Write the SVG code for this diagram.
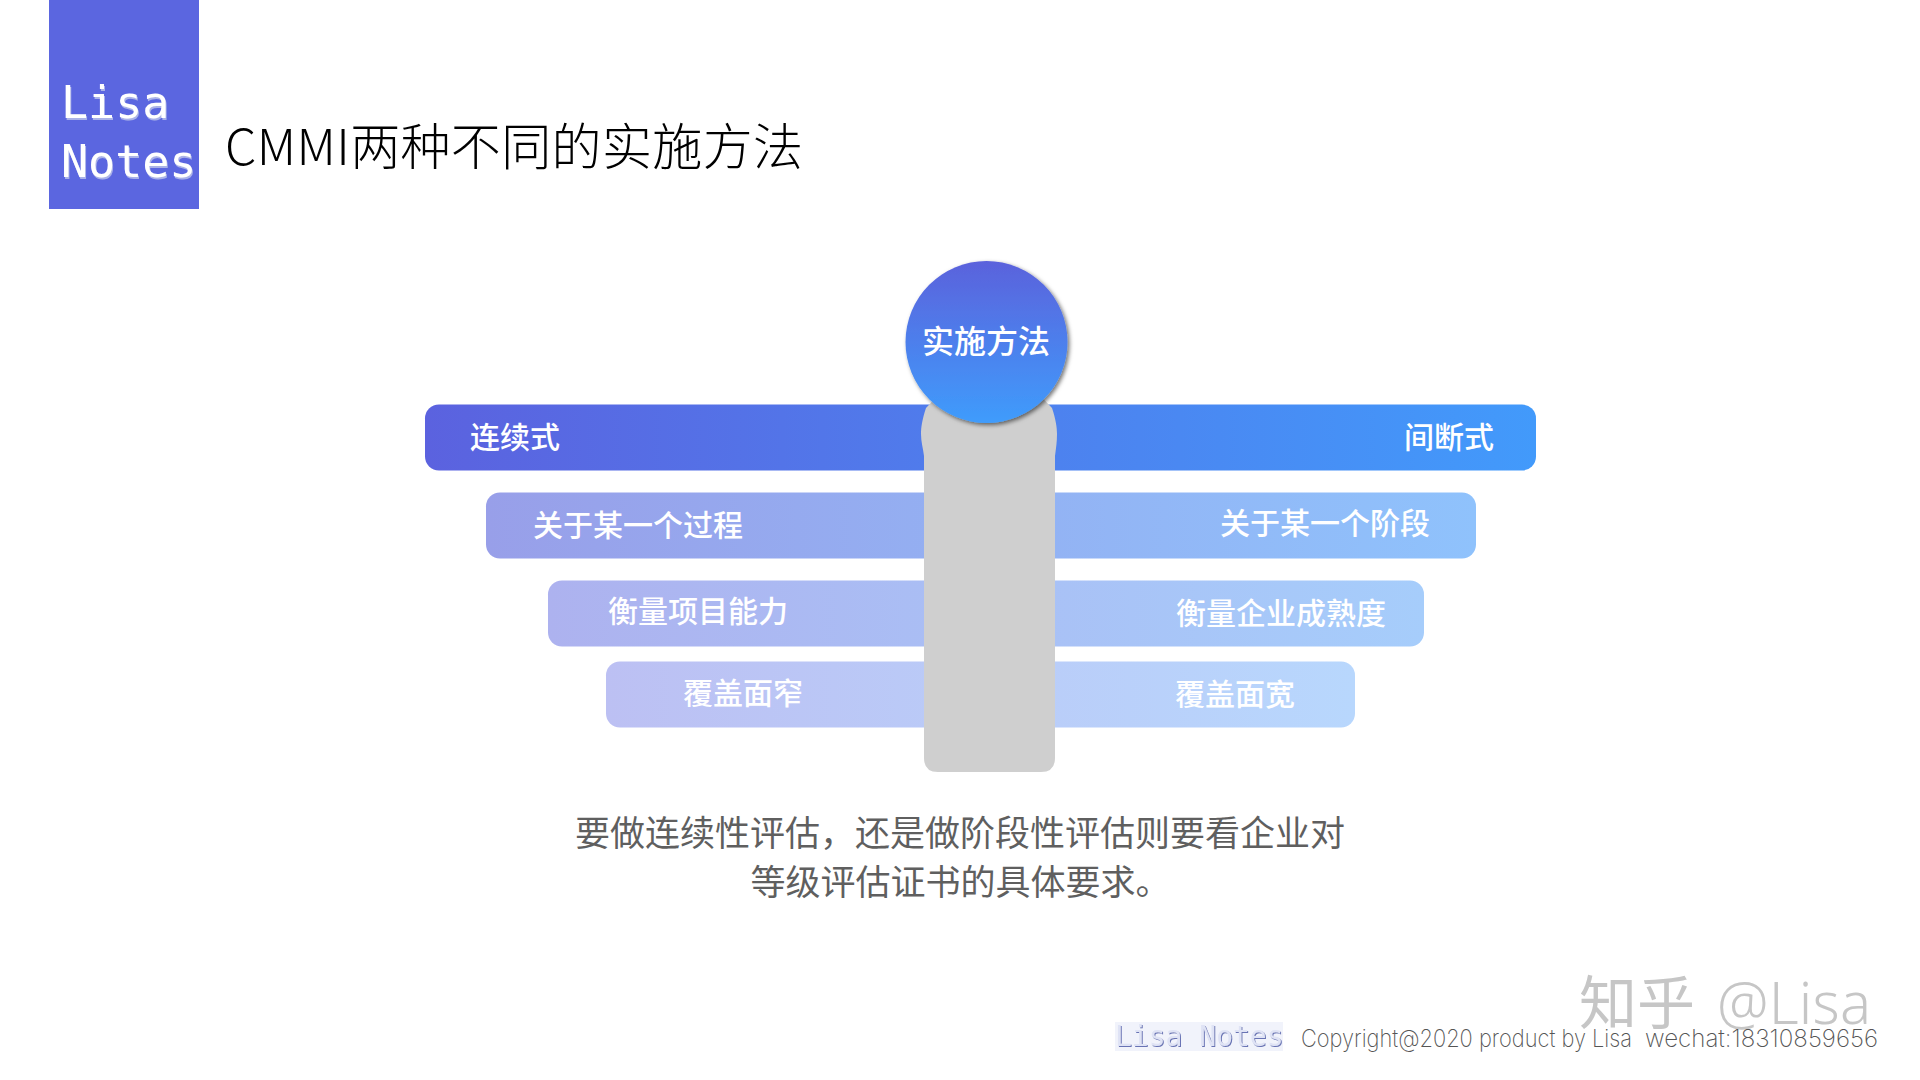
<svg xmlns="http://www.w3.org/2000/svg" width="1920" height="1080" viewBox="0 0 1920 1080">
<style>
.cjk{font-family:"Noto Sans CJK SC","Noto Sans",sans-serif}
.bar{font-family:"Noto Sans CJK SC","Noto Sans",sans-serif;font-size:30px;font-weight:500;fill:#fff}
.mono{font-family:"DejaVu Sans Mono",monospace}
.body{font-family:"Noto Sans CJK SC",sans-serif;font-size:35px;fill:#5f5f5f;text-anchor:middle}
.foot{font-family:"Inter","Liberation Sans",sans-serif;font-size:24px;font-weight:200;fill:#555}
</style>
<defs>
<linearGradient id="g1" x1="0" y1="0" x2="1" y2="0"><stop offset="0" stop-color="#5b62df"/><stop offset="1" stop-color="#429afb"/></linearGradient>
<linearGradient id="g2" x1="0" y1="0" x2="1" y2="0"><stop offset="0" stop-color="#989fe9"/><stop offset="1" stop-color="#8fc2fc"/></linearGradient>
<linearGradient id="g3" x1="0" y1="0" x2="1" y2="0"><stop offset="0" stop-color="#adb2ef"/><stop offset="1" stop-color="#a6cdfb"/></linearGradient>
<linearGradient id="g4" x1="0" y1="0" x2="1" y2="0"><stop offset="0" stop-color="#bcc0f3"/><stop offset="1" stop-color="#b8d7fd"/></linearGradient>
<linearGradient id="gc" x1="0" y1="0" x2="0" y2="1"><stop offset="0" stop-color="#5b62dc"/><stop offset="1" stop-color="#3f9cfc"/></linearGradient>
<filter id="sh" x="-10%" y="-10%" width="125%" height="125%"><feDropShadow dx="2" dy="2" stdDeviation="2" flood-color="#000" flood-opacity="0.55"/></filter>
<filter id="ts" x="-5%" y="-5%" width="110%" height="120%"><feDropShadow dx="1" dy="2" stdDeviation="0.6" flood-color="#aab2e8" flood-opacity="1"/></filter>
<filter id="fs" x="-5%" y="-5%" width="110%" height="120%"><feDropShadow dx="1" dy="1" stdDeviation="0.4" flood-color="#6873b4" flood-opacity="1"/></filter>
</defs>
<rect width="1920" height="1080" fill="#fff"/>

<g id="logo">
<rect x="49" y="0" width="150" height="209" fill="#5b66e0"/>
<g filter="url(#ts)" class="mono" font-size="45" fill="#fff">
<text x="61" y="118">Lisa</text>
<text x="61" y="177">Notes</text>
</g>
</g>

<g id="title">
<text x="225" y="165" class="cjk" font-size="50" font-weight="300" fill="#000" textLength="578" lengthAdjust="spacing">CMMI两种不同的实施方法</text>
</g>

<g id="bars">
<g id="bar-1"><rect x="425" y="404.5" width="1111" height="66" rx="14" fill="url(#g1)"/></g>
<g id="bar-2"><rect x="486" y="492.5" width="990" height="66" rx="14" fill="url(#g2)"/></g>
<g id="bar-3"><rect x="548" y="580.5" width="876" height="66" rx="14" fill="url(#g3)"/></g>
<g id="bar-4"><rect x="606" y="661.5" width="749" height="66" rx="14" fill="url(#g4)"/></g>
</g>

<g id="labels">
<text class="bar" x="470" y="448">连续式</text>
<text class="bar" x="1404" y="448">间断式</text>
<text class="bar" x="533" y="536">关于某一个过程</text>
<text class="bar" x="1220" y="534">关于某一个阶段</text>
<text class="bar" x="608" y="622">衡量项目能力</text>
<text class="bar" x="1176" y="624">衡量企业成熟度</text>
<text class="bar" x="683" y="704">覆盖面窄</text>
<text class="bar" x="1175" y="705">覆盖面宽</text>
</g>

<g id="stem">
<path d="M926 408 C922 420 921 428 921 434 C921 442 923 448 924 456 L924 758 Q924 772 938 772 L1041 772 Q1055 772 1055 758 L1055 456 C1056 448 1057 442 1057 434 C1057 428 1056 420 1052 408 L1030 385 L948 385 Z" fill="#cfcfcf"/>
</g>

<g id="center-node">
<circle cx="986.5" cy="342" r="81" fill="url(#gc)" filter="url(#sh)"/>
<text x="986" y="353" class="cjk" font-size="32" font-weight="500" fill="#fff" text-anchor="middle">实施方法</text>
</g>

<g id="caption">
<text class="body" x="960" y="846">要做连续性评估，还是做阶段性评估则要看企业对</text>
<text class="body" x="960.500" y="895">等级评估证书的具体要求。</text>
</g>

<g id="watermark">
<text x="1579" y="1024" class="cjk" font-size="58" fill="#c6c6c6">知乎</text>
<text x="1717" y="1024" font-family="'Noto Sans',sans-serif" font-weight="300" font-size="58" fill="#c6c6c6" textLength="154">@Lisa</text>
</g>

<g id="footer">
<rect x="1115" y="1022" width="168" height="29" fill="#f1f3fb"/>
<text x="1115" y="1046" class="mono" font-size="28" fill="#dfe3f5" filter="url(#fs)">Lisa Notes</text>
<text class="foot" x="1301" y="1047" textLength="331" lengthAdjust="spacingAndGlyphs">Copyright@2020 product by Lisa</text>
<text class="foot" x="1645" y="1047" textLength="233" lengthAdjust="spacingAndGlyphs">wechat:18310859656</text>
</g>
</svg>
